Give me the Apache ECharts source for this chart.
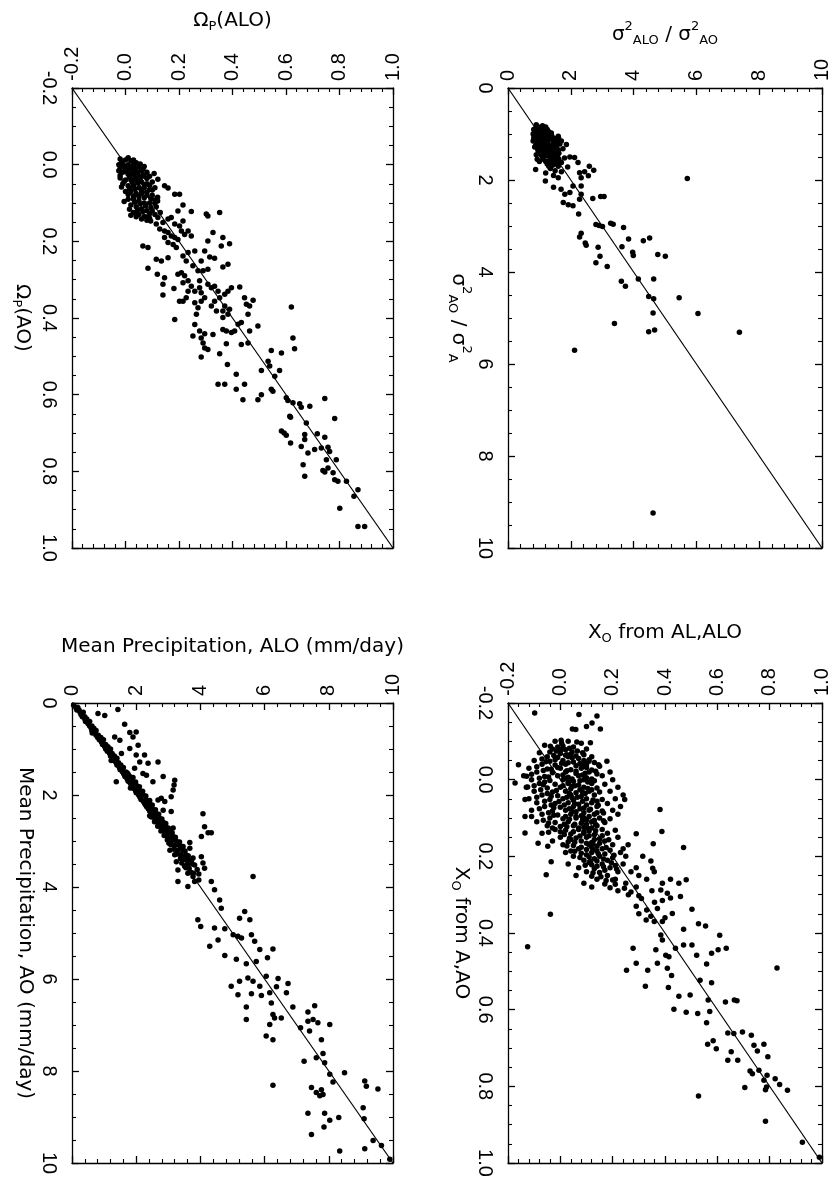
<!DOCTYPE html>
<html><head><meta charset="utf-8">
<script src="https://cdn.jsdelivr.net/npm/echarts@6/dist/echarts.min.js"></script>
<style>html,body{margin:0;padding:0;background:#fff}#c{width:832px;height:1182px}</style>
</head><body><div id="c"></div>
<script>
// ---- DATA: each point is [AO value (vertical axis), ALO value (horizontal axis)] ----
const omegaCore = [
[-0.015,-0.02],[-0.012,0.0],[-0.01,0.02],[-0.005,0.04],[0.0,-0.025],[0.0,-0.01],[0.0,0.01],[0.0,0.03],[0.005,0.05],[0.005,0.07],
[0.01,-0.02],[0.01,0.0],[0.01,0.02],[0.015,0.04],[0.015,0.06],[0.02,0.08],[0.02,-0.01],[0.025,0.01],[0.025,0.03],[0.03,0.05],
[0.03,0.07],[0.03,0.09],[0.035,-0.02],[0.04,0.0],[0.04,0.02],[0.04,0.04],[0.045,0.06],[0.045,0.1],[0.05,0.08],[0.05,-0.01],
[0.055,0.01],[0.055,0.03],[0.06,0.05],[0.06,0.07],[0.06,0.11],[0.065,0.09],[0.07,0.0],[0.07,0.02],[0.075,0.04],[0.075,0.06],
[0.08,0.08],[0.08,0.1],[0.085,0.12],[0.09,0.01],[0.09,0.03],[0.095,0.05],[0.1,0.07],[0.1,0.09],[0.1,0.11],[0.105,0.02],
[0.11,0.04],[0.115,0.06],[0.12,0.08],[0.12,0.1],[0.125,0.03],[0.13,0.05],[0.135,0.07],[0.14,0.09],[0.13,0.11],[0.125,0.13],
[-0.018,0.01],[-0.012,0.03],[-0.005,-0.015],[-0.002,0.055],[0.004,-0.005],[0.006,0.015],[0.008,0.035],[0.012,0.065],[0.016,-0.025],[0.018,0.005],
[0.02,0.025],[0.022,0.045],[0.026,0.065],[0.028,-0.02],[0.032,0.015],[0.034,0.035],[0.036,0.08],[0.038,0.055],[0.044,-0.005],[0.046,0.025],
[0.048,0.045],[0.052,0.07],[0.054,0.09],[0.058,-0.015],[0.062,0.015],[0.064,0.035],[0.066,0.1],[0.068,0.06],[0.072,0.08],[0.078,0.01],
[0.082,0.03],[0.084,0.05],[0.086,0.07],[0.088,0.095],[0.092,0.11],[0.096,-0.005],[0.098,0.035],[0.102,0.055],[0.108,0.075],[0.112,0.095],
[0.116,0.015],[0.118,0.045],[0.122,0.065],[0.128,0.09],[0.132,0.02],[0.136,0.04],[0.142,0.06],[0.145,0.08],[0.11,0.115],[0.095,0.12]
];
const omegaSpread = [
[0.023,0.107],[0.038,0.121],[0.055,0.146],[0.061,0.159],[0.077,0.184],[0.077,0.202],[0.105,0.215],[0.121,0.196],[0.122,0.246],[0.129,0.302],[0.134,0.308],[0.125,0.352],
[0.177,0.327],[0.190,0.364],[0.206,0.389],[0.212,0.358],[0.199,0.308],[0.225,0.296],[0.241,0.315],[0.244,0.333],[0.251,0.283],[0.267,0.364],[0.260,0.383],[0.273,0.308],[0.277,0.290],
[0.212,0.065],[0.216,0.084],[0.270,0.084],[0.286,0.119],[0.295,0.146],[0.312,0.140],[0.340,0.140],[0.323,0.181],[0.356,0.202],[0.356,0.215],[0.404,0.184],[0.247,0.115],[0.251,0.134],[0.243,0.159],[0.286,0.196],[0.282,0.209],[0.290,0.221],
[0.317,0.246],[0.330,0.259],[0.321,0.277],[0.334,0.283],[0.347,0.296],[0.312,0.308],[0.321,0.321],[0.317,0.333],[0.330,0.346],[0.347,0.352],[0.338,0.371],[0.330,0.383],[0.321,0.396],[0.319,0.427],[0.347,0.445],[0.354,0.477],[0.369,0.464],[0.364,0.452],[0.390,0.458],[0.369,0.371],[0.377,0.389],[0.399,0.364],[0.390,0.383],[0.416,0.421],[0.412,0.433],[0.421,0.495],[0.434,0.464],[0.430,0.364],[0.434,0.377],[0.438,0.396],[0.434,0.408],[0.465,0.458],[0.447,0.252],[0.434,0.277],[0.452,0.283],[0.465,0.290],[0.478,0.296],[0.482,0.308],[0.443,0.327],[0.493,0.352],[0.467,0.377],[0.502,0.283],[0.441,0.296],[0.417,0.259],[0.390,0.265],[0.373,0.271],[0.356,0.283],[0.360,0.259],[0.330,0.234],[0.347,0.227],
[0.371,0.620],[0.452,0.626],[0.480,0.632],[0.485,0.545],[0.491,0.583],[0.513,0.533],[0.525,0.539],[0.537,0.508],[0.537,0.576],[0.552,0.558],[0.521,0.381],[0.547,0.414],[0.573,0.445],[0.573,0.346],[0.573,0.371],[0.586,0.414],[0.613,0.439],[0.613,0.495],[0.600,0.508],[0.586,0.545],[0.591,0.551],[0.608,0.601],[0.615,0.607],[0.621,0.626],[0.624,0.651],[0.633,0.657],[0.630,0.689],[0.610,0.745],[0.656,0.614],[0.659,0.617],[0.662,0.782],[0.674,0.676],[0.695,0.583],[0.700,0.593],[0.706,0.601],[0.704,0.670],[0.717,0.670],[0.702,0.717],[0.711,0.745],[0.726,0.617],[0.735,0.657],[0.752,0.682],[0.743,0.707],[0.739,0.732],[0.737,0.757],[0.748,0.763],[0.770,0.751],[0.770,0.788],[0.783,0.664],[0.813,0.670],[0.798,0.738],[0.802,0.745],[0.791,0.757],[0.804,0.776],[0.822,0.782],[0.826,0.794],[0.826,0.826],[0.848,0.869],[0.865,0.854],[0.896,0.801],[0.944,0.869],[0.944,0.894],
[0.173,0.146],[0.177,0.159],[0.186,0.171],[0.190,0.184],[0.195,0.196],[0.190,0.146],[0.203,0.159],[0.208,0.178],[0.216,0.190],[0.173,0.209],[0.182,0.221],[0.173,0.234],[0.186,0.246],[0.142,0.159],[0.138,0.171],[0.155,0.184],[0.160,0.202],[0.147,0.215],[0.151,0.140],[0.147,0.094],[0.155,0.115],[0.168,0.128],[0.136,0.084],[0.138,0.121],[0.125,0.040],[0.225,0.259],[0.229,0.234],[0.238,0.215],[0.251,0.227],[0.264,0.252],[0.277,0.271],[0.303,0.277],[0.308,0.215],[0.303,0.234],[0.356,0.333],[0.369,0.321],[0.382,0.340],[0.382,0.364],[0.469,0.433]
];
const varCore = [
[0.8,0.9],[0.82,1.1],[0.85,1.2],[0.85,0.95],[0.9,0.82],[0.9,1.0],[0.92,1.15],[0.95,1.3],[0.95,0.85],[1.0,0.8],
[1.0,0.95],[1.0,1.1],[1.02,1.25],[1.05,1.4],[1.05,0.88],[1.1,1.02],[1.1,1.18],[1.1,1.35],[1.12,1.55],[1.15,0.8],
[1.15,0.95],[1.18,1.1],[1.2,1.25],[1.2,1.45],[1.22,1.65],[1.25,0.88],[1.25,1.02],[1.28,1.18],[1.3,1.35],[1.3,1.55],
[1.32,1.75],[1.35,0.95],[1.38,1.1],[1.4,1.28],[1.4,1.45],[1.42,1.62],[1.45,1.05],[1.48,1.2],[1.5,1.38],[1.5,1.58],
[1.52,1.8],[1.55,1.12],[1.58,1.3],[1.6,1.5],[1.62,1.7],[1.65,1.25],[1.68,1.42],[1.7,1.6],[1.72,1.9],[1.75,1.35],
[1.8,1.5],[1.82,1.7],[1.85,1.2],[1.9,1.45],[1.95,1.6],[1.28,0.85],[1.45,0.9],[1.6,1.0],[1.05,1.6],[1.15,1.7],
[0.85,1.05],[0.88,0.88],[0.9,1.25],[0.95,1.0],[0.95,1.15],[0.98,1.38],[1.0,0.88],[1.02,1.05],[1.05,1.2],[1.08,0.82],
[1.08,0.95],[1.1,1.5],[1.12,1.1],[1.15,1.28],[1.15,1.45],[1.18,0.9],[1.2,1.05],[1.2,1.6],[1.22,1.18],[1.25,1.35],
[1.25,1.5],[1.28,0.95],[1.3,1.1],[1.3,1.25],[1.32,1.45],[1.35,1.6],[1.35,1.02],[1.38,1.2],[1.4,1.35],[1.42,0.98],
[1.45,1.15],[1.45,1.52],[1.48,1.3],[1.5,1.1],[1.55,1.45],[1.55,1.62],[1.6,1.2],[1.62,1.38],[1.65,1.55],[1.7,1.3]
];
const varSpread = [
[1.97,5.71],[1.77,0.88],[1.55,0.93],[2.02,1.19],[2.16,1.45],[2.20,1.69],[2.49,1.76],[2.54,1.92],[2.56,2.07],[2.74,2.25],[2.31,1.81],[2.27,1.97],[2.13,2.07],[2.13,2.33],[1.95,2.33],[1.84,2.28],[1.82,2.44],[1.70,2.59],[1.79,2.73],[1.91,2.56],[2.40,2.70],[2.36,2.95],[2.36,3.06],[1.51,2.12],[1.62,2.23],[1.50,1.97],[1.23,1.86],[1.08,1.61],[2.31,2.33],[2.42,2.28],[2.97,2.80],[2.99,2.90],[3.01,3.01],[2.94,3.27],[2.96,3.35],[3.03,3.68],[3.28,3.84],[3.45,3.63],[3.32,4.31],[3.26,4.51],[3.57,3.97],[3.64,3.99],[3.62,4.77],[3.66,5.01],[3.46,2.87],[3.66,2.93],[3.88,3.16],[3.80,2.80],[3.16,2.33],[3.24,2.28],[3.37,2.46],[3.42,2.49],[4.15,4.15],[4.15,4.64],[4.20,3.61],[4.31,3.74],[4.53,4.48],[4.58,4.64],[4.56,5.45],[4.90,6.05],[4.89,4.62],[5.12,3.39],[5.30,4.48],[5.26,4.67],[5.31,7.37],[5.70,2.12],[9.24,4.62]
];
const precipBand = [
[0.05,0.05],[0.1,0.12],[0.15,0.15],[0.2,0.25],[0.25,0.28],[0.3,0.32],[0.35,0.4],[0.4,0.42],[0.45,0.5],[0.5,0.55],[0.55,0.6],[0.6,0.62],[0.65,0.72],[0.7,0.75],[0.75,0.8],[0.8,0.85],[0.85,0.92],[0.9,0.95],[0.95,1.02],[1.0,1.05],[1.05,1.1],[1.1,1.18],[1.15,1.2],[1.2,1.28],[1.25,1.3],[1.3,1.38],[1.35,1.4],[1.4,1.48],[1.45,1.5],[1.5,1.58],[1.55,1.62],[1.6,1.65],[1.65,1.72],[1.7,1.75],[1.75,1.82],[1.8,1.88],[1.85,1.9],[1.9,1.98],[1.95,2.0],[2.0,2.08],[2.05,2.12],[2.1,2.15],[2.15,2.25],[2.2,2.28],[2.25,2.32],[2.3,2.38],[2.35,2.42],[2.4,2.5],[2.45,2.52],[2.5,2.58],[2.55,2.65],[2.6,2.68],[2.65,2.72],[2.7,2.8],[2.75,2.82],[2.8,2.9],[2.85,2.95],[2.9,3.0],[2.95,3.05],[3.0,3.1],[3.1,3.2],[3.2,3.3],[3.3,3.4],[3.4,3.5],[3.5,3.6],[3.6,3.65],[3.7,3.78],
[0.2,0.35],[0.4,0.55],[0.6,0.75],[0.8,0.98],[1.0,1.2],[1.2,1.4],[1.4,1.6],[1.6,1.8],[1.8,2.02],[2.0,2.22],[2.2,2.42],[2.4,2.62],[2.6,2.85],[2.8,3.05],[3.0,3.25],[3.2,3.45],[3.4,3.6],
[3.63,3.30],[3.55,3.51],[3.70,3.61],[3.77,3.77],[3.88,3.82],[3.45,3.25],[3.30,3.20],[3.20,3.05],[3.85,3.95],
[0.1,0.18],[0.3,0.4],[0.5,0.62],[0.7,0.82],[0.9,1.05],[1.1,1.25],[1.3,1.45],[1.5,1.68],[1.7,1.88],[1.9,2.1],[2.1,2.3],[2.3,2.5],[2.5,2.72],[2.7,2.92],[2.9,3.15],[3.1,3.35],[3.3,3.55],[3.5,3.75],
[0.15,0.22],[0.35,0.46],[0.55,0.68],[0.75,0.9],[0.95,1.12],[1.15,1.32],[1.35,1.52],[1.55,1.75],[1.75,1.95],[1.95,2.15],[2.15,2.38],[2.35,2.58],[2.55,2.78],[2.75,2.98],[2.95,3.2],[3.15,3.4],[3.35,3.48],[3.05,3.02],[2.45,2.42],[1.85,1.82],[1.25,1.22],[0.65,0.63],
[1.52,1.72],[1.62,1.9],[1.72,1.98],[1.82,2.1],[1.92,2.2],[2.02,2.3],[2.12,2.42],[2.22,2.5],[2.32,2.6],[2.42,2.7],[2.52,2.8],[2.62,2.92],[2.72,3.0],[2.82,3.12],[2.92,3.22],[3.02,3.35],[3.12,3.42],[3.22,3.52],[3.32,3.62],[3.42,3.72],[3.52,3.82],[3.62,3.9],[3.72,3.95],
[2.48,2.47],[2.58,2.57],[2.68,2.67],[2.78,2.77],[2.88,2.87],[2.98,2.97],[3.08,3.08],[3.18,3.18],[3.28,3.28],[3.38,3.38],[3.48,3.42],[3.58,3.55],[3.68,3.7]
];
const precipSpread = [
[0.23,0.81],[0.27,1.02],[0.14,1.43],[0.46,1.64],[0.64,1.80],[0.63,2.00],[0.74,1.90],[0.81,1.49],[0.74,1.33],[0.99,1.80],[0.92,2.06],[1.10,1.54],[1.13,2.00],[1.13,2.26],[1.31,2.37],[1.28,2.68],[1.28,2.11],[1.42,1.95],[1.53,2.21],[1.57,2.32],[1.71,2.52],[1.60,2.84],[1.68,3.20],[1.78,3.18],[1.89,3.15],[2.04,3.09],[1.71,1.38],[2.11,2.68],[2.07,2.78],[2.14,2.89],[2.33,2.84],[2.36,3.09],[2.41,4.08],[2.69,4.13],[2.90,4.03],[2.82,4.24],[2.82,4.34],[3.03,3.67],[3.16,3.67],[2.72,3.15],[3.12,3.46],[3.34,4.03],[3.48,4.08],[3.59,4.13],[3.37,3.77],[3.88,3.30],[3.99,3.61],[3.88,4.34],[3.77,5.64],[4.06,4.44],[4.28,4.60],[4.46,4.65],[4.53,5.38],[4.68,5.22],[4.71,5.54],[4.71,3.92],[4.86,4.01],[4.89,4.44],[4.91,4.76],[5.04,5.02],[5.07,5.17],[5.11,5.28],[5.04,5.59],[5.29,4.29],[5.15,4.55],[5.49,4.76],[5.57,5.12],[5.67,5.43],[5.36,5.85],[5.62,5.74],[5.35,6.26],[5.54,6.09],[5.18,5.69],[6.16,4.96],[6.05,5.22],[5.98,5.48],[6.05,5.64],[6.16,5.85],[5.94,6.05],[5.99,6.42],[6.17,6.37],[6.10,6.73],[6.34,5.17],[6.32,5.59],[6.36,5.90],[6.30,6.16],[6.30,6.68],[6.52,6.21],[6.61,5.43],[6.88,5.43],[6.77,6.26],[6.85,6.31],[6.85,6.52],[6.99,6.16],[6.61,6.88],[6.72,7.35],[6.58,7.56],[6.88,7.51],[6.92,7.35],[6.95,7.66],[6.99,8.03],[7.06,7.12],[7.13,7.40],[7.24,6.05],[7.32,6.26],[7.32,7.77],[7.62,7.82],[7.71,7.61],[7.82,7.87],[7.79,7.23],[8.07,8.03],[8.24,8.13],[8.04,8.49],[8.31,6.26],[8.36,7.46],[8.41,7.77],[8.47,7.61],[8.51,7.82],[8.54,7.72],[8.22,9.12],[8.33,9.17],[8.39,9.53],[8.92,7.35],[8.92,7.87],[9.22,7.85],[9.07,8.03],[9.01,8.31],[8.80,9.07],[9.04,9.10],[9.38,7.46],[9.74,8.34],[9.69,9.12],[9.51,9.38],[9.62,9.64],[9.92,9.90]
];
const xoCore = [
[-0.10,-0.02],[-0.10,0.03],[-0.095,0.08],[-0.09,-0.06],[-0.088,0.01],[-0.085,0.05],[-0.08,-0.03],[-0.078,0.02],[-0.075,0.065],[-0.08,0.10],
[-0.07,-0.08],[-0.068,0.0],[-0.066,0.04],[-0.07,0.085],[-0.06,-0.05],[-0.058,-0.01],[-0.06,0.03],[-0.055,0.07],[-0.06,0.12],[-0.05,-0.10],
[-0.048,-0.04],[-0.05,0.01],[-0.046,0.05],[-0.05,0.09],[-0.045,0.13],[-0.04,-0.07],[-0.038,-0.02],[-0.04,0.02],[-0.036,0.06],[-0.04,0.10],
[-0.035,0.15],[-0.03,-0.12],[-0.028,-0.05],[-0.03,0.0],[-0.026,0.04],[-0.03,0.08],[-0.025,0.12],[-0.02,-0.09],[-0.018,-0.03],[-0.02,0.02],
[-0.016,0.06],[-0.02,0.11],[-0.015,0.14],[-0.01,-0.14],[-0.008,-0.06],[-0.01,-0.01],[-0.006,0.03],[-0.01,0.07],[-0.005,0.10],[-0.01,0.16],
[0.0,-0.11],[0.002,-0.04],[0.0,0.01],[0.004,0.05],[0.0,0.09],[0.003,0.13],[0.01,-0.08],[0.012,-0.02],[0.01,0.03],[0.014,0.07],
[0.01,0.12],[0.012,0.17],[0.02,-0.13],[0.022,-0.05],[0.02,0.0],[0.024,0.04],[0.02,0.09],[0.022,0.14],[0.03,-0.10],[0.032,-0.03],
[0.03,0.02],[0.034,0.06],[0.03,0.11],[0.032,0.15],[0.03,0.19],[0.04,-0.07],[0.042,-0.01],[0.04,0.04],[0.044,0.08],[0.04,0.13],
[0.05,-0.12],[0.052,-0.04],[0.05,0.01],[0.054,0.05],[0.05,0.10],[0.052,0.16],[0.06,-0.09],[0.062,-0.02],[0.06,0.03],[0.064,0.07],
[0.06,0.12],[0.062,0.18],[0.07,-0.06],[0.072,0.0],[0.07,0.05],[0.074,0.09],[0.07,0.14],[0.08,-0.11],[0.082,-0.03],[0.08,0.02],
[0.084,0.06],[0.08,0.11],[0.082,0.16],[0.08,0.20],[0.09,-0.07],[0.092,-0.01],[0.09,0.04],[0.094,0.08],[0.09,0.13],[0.10,-0.04],
[0.102,0.01],[0.10,0.06],[0.104,0.10],[0.10,0.15],[0.102,0.19],[0.11,-0.09],[0.112,-0.02],[0.11,0.03],[0.114,0.08],[0.11,0.12],
[0.112,0.17],[0.12,-0.05],[0.122,0.0],[0.12,0.05],[0.124,0.09],[0.12,0.14],[0.13,-0.02],[0.132,0.02],[0.13,0.07],[0.134,0.11],
[0.13,0.16],[0.132,0.21],[0.14,-0.07],[0.142,0.04],[0.14,0.09],[0.144,0.13],[0.14,0.18],[0.15,0.0],[0.152,0.06],[0.15,0.10],
[0.154,0.15],[0.15,0.22],[0.16,-0.03],[0.162,0.03],[0.16,0.08],[0.164,0.12],[0.16,0.17],[0.17,0.01],[0.172,0.05],[0.17,0.11],
[0.174,0.14],[0.17,0.20],[0.18,0.07],[0.182,0.10],[0.18,0.16],[0.184,0.19],[0.19,0.02],[0.192,0.08],[0.19,0.12],[0.194,0.17],
[0.19,0.23],[0.20,0.05],[0.202,0.11],[0.20,0.15],[0.204,0.20],[0.21,0.09],[0.212,0.14],[0.21,0.18],[0.22,0.03],[0.222,0.12],
[0.22,0.16],[0.224,0.21],[0.23,0.07],[0.232,0.13],[0.23,0.19],[0.24,0.10],[0.242,0.15],[0.24,0.22],[0.25,0.06],[0.252,0.12],
[0.25,0.18],[0.26,0.14],[0.262,0.20],[0.27,0.09],[0.272,0.17],[0.28,0.12],[0.282,0.19],
[0.22,0.24],[0.24,0.27],[0.25,0.30],[0.26,0.33],[0.28,0.29],[0.29,0.35],[0.30,0.26],[0.31,0.31],[0.32,0.36],[0.33,0.29],[0.34,0.33],[0.20,0.25],[0.18,0.24],[0.23,0.29],[0.27,0.25],[0.315,0.39],[0.29,0.22],[0.26,0.21],[0.35,0.30],[0.36,0.40],
[0.0,0.2],[0.02,0.22],[0.05,0.21],[0.07,0.23],[0.04,0.24],[0.09,0.22],[-0.02,0.19],
[-0.095,0.005],[-0.085,-0.01],[-0.082,0.035],[-0.072,-0.04],[-0.064,0.02],[-0.062,0.06],[-0.054,-0.07],[-0.052,-0.02],[-0.052,0.11],[-0.044,0.03],
[-0.042,0.075],[-0.034,-0.09],[-0.032,-0.01],[-0.032,0.1],[-0.024,-0.065],[-0.022,0.06],[-0.022,0.135],[-0.014,-0.11],[-0.012,0.01],[-0.012,0.085],
[-0.004,-0.08],[-0.002,0.045],[-0.002,0.12],[0.006,-0.06],[0.006,0.03],[0.006,0.105],[0.016,-0.1],[0.016,0.01],[0.016,0.055],[0.026,-0.075],
[0.026,0.075],[0.026,0.12],[0.036,-0.05],[0.036,0.035],[0.036,0.095],[0.046,-0.09],[0.046,0.025],[0.046,0.065],[0.056,-0.06],[0.056,0.085],
[0.056,0.14],[0.066,-0.035],[0.066,0.015],[0.066,0.1],[0.076,-0.08],[0.076,0.035],[0.076,0.075],[0.086,-0.045],[0.086,0.09],[0.086,0.14],
[0.096,0.02],[0.096,0.06],[0.096,0.11],[0.106,-0.065],[0.106,0.085],[0.106,0.13],[0.116,0.015],[0.116,0.055],[0.116,0.1],[0.126,-0.03],
[0.126,0.07],[0.126,0.12],[0.136,0.0],[0.136,0.05],[0.136,0.09],[0.146,0.11],[0.146,0.16],[0.156,0.04],[0.156,0.13],[0.166,0.1],
[0.166,0.15],[0.176,0.08],[0.176,0.12],[0.186,0.04],[0.186,0.14],[0.196,0.1],[0.206,0.13],[0.216,0.11],[0.226,0.14],[0.236,0.17],
[-0.075,-0.015],[-0.072,0.045],[-0.063,-0.025],[-0.057,0.045],[-0.047,-0.055],[-0.043,0.005],[-0.037,0.085],[-0.027,-0.035],[-0.023,0.025],[-0.017,0.095],
[-0.007,-0.045],[-0.003,0.015],[0.003,0.075],[0.013,-0.065],[0.017,0.045],[0.023,0.105],[0.028,-0.015],[0.033,0.085],[0.043,-0.035],[0.047,0.045],
[0.053,0.125],[0.057,-0.005],[0.063,0.055],[0.067,0.145],[0.073,-0.025],[0.077,0.115],[0.083,0.045],[0.087,0.165],[0.093,-0.025],[0.097,0.085],
[0.103,0.035],[0.107,0.165],[0.113,-0.045],[0.117,0.135],[0.123,0.025],[0.127,0.105],[0.133,0.135],[0.137,-0.045],[0.143,0.015],[0.147,0.075],
[0.153,0.035],[0.157,0.185],[0.163,0.055],[0.167,0.125],[0.173,0.025],[0.177,0.175],[0.183,0.125],[0.187,0.055],[0.193,0.145],[0.197,0.205],
[0.203,0.075],[0.207,0.165],[0.213,0.115],[0.217,0.195],[0.223,0.095],[0.227,0.165],[0.233,0.215],[0.243,0.125],[0.253,0.155],[0.263,0.175],
[0.273,0.21],[0.283,0.245],[0.293,0.27],[0.303,0.3]
];
const xoSpread = [
[-0.174,-0.098],[-0.170,0.071],[-0.166,0.140],[-0.148,0.121],[-0.139,0.100],[-0.132,0.153],[-0.132,0.046],[-0.131,0.059],[-0.087,-0.038],[-0.103,0.003],[-0.098,0.063],[-0.096,0.115],[-0.078,0.003],[-0.065,0.025],[-0.065,0.090],[-0.048,0.109],[-0.048,0.178],[-0.039,0.146],[-0.039,-0.160],[0.009,-0.173],[-0.009,-0.129],[0.019,-0.125],[0.052,-0.135],[0.096,-0.135],[0.096,-0.110],[0.139,-0.135],[0.166,-0.085],[0.174,-0.048],[0.248,-0.054],[0.214,-0.035],[0.351,-0.038],[0.436,-0.125],[0.052,0.246],[0.078,0.381],[0.135,0.388],[0.167,0.355],[0.177,0.471],[0.141,0.290],[0.170,0.259],[0.200,0.315],[0.212,0.346],[0.231,0.353],[0.240,0.359],[0.260,0.421],[0.270,0.453],[0.261,0.481],[0.270,0.390],[0.288,0.384],[0.296,0.409],[0.309,0.421],[0.305,0.459],[0.336,0.371],[0.338,0.503],[0.349,0.428],[0.356,0.346],[0.366,0.328],[0.370,0.359],[0.370,0.390],[0.390,0.471],[0.376,0.528],[0.382,0.555],[0.406,0.609],[0.440,0.634],[0.444,0.603],[0.453,0.578],[0.431,0.503],[0.431,0.471],[0.440,0.440],[0.458,0.521],[0.405,0.384],[0.418,0.390],[0.458,0.403],[0.462,0.415],[0.444,0.365],[0.479,0.371],[0.492,0.409],[0.511,0.425],[0.497,0.334],[0.539,0.325],[0.479,0.290],[0.440,0.278],[0.497,0.253],[0.542,0.413],[0.565,0.453],[0.562,0.496],[0.599,0.434],[0.607,0.481],[0.610,0.525],[0.634,0.559],[0.575,0.565],[0.605,0.571],[0.523,0.534],[0.481,0.559],[0.530,0.578],[0.580,0.631],[0.575,0.665],[0.577,0.675],[0.491,0.828],[0.690,0.563],[0.681,0.584],[0.702,0.596],[0.661,0.640],[0.662,0.663],[0.658,0.696],[0.667,0.730],[0.693,0.740],[0.708,0.753],[0.690,0.778],[0.723,0.793],[0.710,0.653],[0.732,0.640],[0.732,0.678],[0.760,0.725],[0.767,0.734],[0.758,0.759],[0.771,0.790],[0.780,0.821],[0.784,0.778],[0.795,0.838],[0.810,0.868],[0.809,0.784],[0.802,0.788],[0.803,0.705],[0.825,0.528],[0.891,0.784],[0.946,0.925],[0.985,0.990]
];
// one-to-one reference lines (axis extents)
const omegaDiag = [[-0.2,-0.2],[1.0,1.0]];
const varDiag = [[0,0],[10,10]];
const precipDiag = [[0,0],[10,10]];
const xoDiag = [[-0.2,-0.2],[1.0,1.0]];

// ---- LAYOUT / STYLE ----
const TICK_FONT = 'Liberation Sans';
const TITLE_FONT = 'DejaVu Sans';
const rich = {
  t: {fontSize: 20, fontFamily: TITLE_FONT, color: '#000', lineHeight: 26},
  s: {fontSize: 13, fontFamily: TITLE_FONT, color: '#000', lineHeight: 14, padding: [12, 0, 0, 0]},
  u: {fontSize: 13, fontFamily: TITLE_FONT, color: '#000', lineHeight: 14, padding: [0, 0, 16, 0]}
};
const panels = [
  {grid: {left: 72, top: 88, width: 321, height: 460}, min: -0.2, max: 1.0, interval: 0.2, dec: 1,
   topName: '{t|Ω}{s|P}{t|(ALO)}', leftName: '{t|Ω}{s|P}{t|(AO)}', topGap: 54, leftGap: 37,
   pts: omegaCore.concat(omegaSpread), diag: omegaDiag},
  {grid: {left: 508, top: 88, width: 321, height: 460}, min: 0, max: 10, interval: 2, dec: 0,
   topName: '{t|σ}{u|2}{s|ALO}{t| / σ}{u|2}{s|AO}', leftName: '{t|σ}{u|2}{s|AO}{t| / σ}{u|2}{s|A}', topGap: 40, leftGap: 37,
   pts: varCore.concat(varSpread), diag: varDiag},
  {grid: {left: 72, top: 703, width: 321, height: 460}, min: 0, max: 10, interval: 2, dec: 0,
   topName: '{t|Mean Precipitation, ALO (mm/day)}', leftName: '{t|Mean Precipitation, AO (mm/day)}', topGap: 43, leftGap: 34,
   pts: precipBand.concat(precipSpread), diag: precipDiag},
  {grid: {left: 508, top: 703, width: 321, height: 460}, min: -0.2, max: 1.0, interval: 0.2, dec: 1,
   topName: '{t|X}{s|O}{t| from AL,ALO}', leftName: '{t|X}{s|O}{t| from A,AO}', topGap: 57, leftGap: 33,
   pts: xoCore.concat(xoSpread), diag: xoDiag}
];

const lineStyle = {color: '#000', width: 1.3};
function fmt(dec) {
  return function (v) {
    if (Math.abs(v) < 1e-9) return dec ? (0).toFixed(dec) : '0';
    return dec ? v.toFixed(dec) : String(Math.round(v));
  };
}
function axis(p, gi, pos, isX, main) {
  const a = {
    gridIndex: gi, type: 'value', position: pos, min: p.min, max: p.max, interval: p.interval,
    inverse: !isX,
    axisLine: {show: true, onZero: false, lineStyle: lineStyle},
    axisTick: {show: true, inside: true, length: 7, lineStyle: lineStyle},
    minorTick: {show: true, splitNumber: isX ? 5 : 4, length: 4, lineStyle: {color: '#000', width: 1.1}},
    splitLine: {show: false}, minorSplitLine: {show: false},
    axisLabel: {show: main, rotate: -90, fontSize: 20, fontFamily: TICK_FONT, color: '#000',
      margin: isX ? 7 : 13, showMinLabel: true, showMaxLabel: true, formatter: fmt(p.dec)}
  };
  if (main) {
    a.name = isX ? p.topName : p.leftName;
    a.nameLocation = 'middle';
    a.nameGap = isX ? p.topGap : p.leftGap;
    a.nameRotate = isX ? 0 : -90;
    a.nameTextStyle = {rich: rich};
  }
  return a;
}

const grids = [], xAxes = [], yAxes = [], series = [];
panels.forEach(function (p, i) {
  grids.push(Object.assign({containLabel: false}, p.grid));
  xAxes.push(axis(p, i, 'top', true, true));
  xAxes.push(axis(p, i, 'bottom', true, false));
  yAxes.push(axis(p, i, 'left', false, true));
  yAxes.push(axis(p, i, 'right', false, false));
  series.push({
    type: 'scatter', xAxisIndex: 2 * i, yAxisIndex: 2 * i, symbol: 'circle', symbolSize: 5.5,
    itemStyle: {color: '#000', opacity: 1}, silent: true, large: false,
    data: p.pts.map(function (d) { return [d[1], d[0]]; })
  });
  series.push({
    type: 'line', xAxisIndex: 2 * i, yAxisIndex: 2 * i, symbol: 'none', silent: true,
    lineStyle: {color: '#000', width: 1.2},
    data: p.diag.map(function (d) { return [d[1], d[0]]; })
  });
});

const chart = echarts.init(document.getElementById('c'), null, {renderer: 'canvas'});
chart.setOption({
  animation: false,
  backgroundColor: '#fff',
  grid: grids, xAxis: xAxes, yAxis: yAxes, series: series
});
</script>
</body></html>
